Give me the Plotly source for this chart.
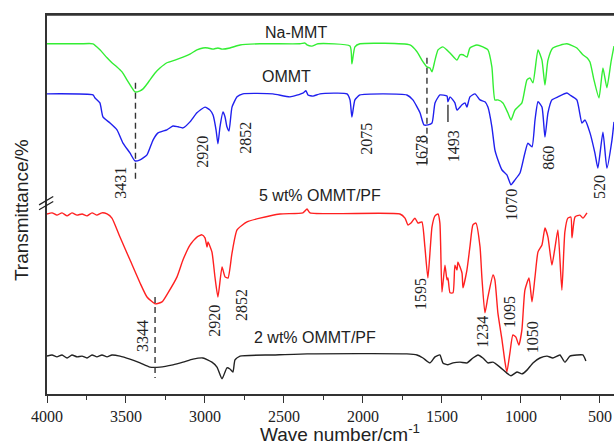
import plotly.graph_objects as go

# ---- data (wavenumber in cm-1, transmittance in a.u.) ----
na_mmt_wn = [4000, 3791, 3709, 3665, 3620, 3589, 3557, 3525, 3494, 3462, 3443, 3411, 3392, 3367, 3348,
             3316, 3285, 3241, 3190, 3139, 3095, 3051, 3013, 2981, 2949, 2918, 2892, 2842, 2778, 2652,
             2399, 2367, 2354, 2323, 2285, 2082, 2070, 2051, 2019, 1703, 1658, 1627, 1595, 1576, 1563,
             1544, 1525, 1494, 1449, 1405, 1386, 1367, 1342, 1323, 1279, 1241, 1209, 1184, 1165, 1146,
             1114, 1083, 1063, 1038, 994, 962, 943, 924, 892, 867, 848, 829, 798, 709, 646, 608, 582,
             563, 538, 506, 481, 456, 430, 411]
na_mmt_t = [92.4, 92.4, 92.4, 90.8, 88.7, 87.4, 86.3, 85.0, 82.9, 80.8, 79.7, 80.0, 80.5, 81.8, 82.9,
            84.7, 86.0, 87.4, 88.1, 88.9, 89.7, 90.8, 91.3, 91.3, 91.0, 91.3, 91.0, 91.3, 92.1, 92.4,
            92.4, 92.6, 92.1, 91.8, 92.4, 91.8, 87.1, 91.6, 92.4, 92.1, 90.3, 88.1, 86.3, 86.0, 85.0,
            88.1, 90.8, 91.6, 90.0, 88.1, 89.5, 89.5, 88.9, 91.3, 92.1, 91.6, 90.8, 86.3, 77.6, 77.6,
            76.8, 74.2, 72.3, 74.9, 76.8, 82.9, 83.4, 82.1, 90.8, 88.1, 81.5, 88.1, 91.3, 92.4, 91.3, 89.5, 88.7,
            87.6, 82.9, 78.1, 86.0, 80.8, 87.6, 91.8]

ommt_wn = [4000, 3709, 3696, 3665, 3646, 3601, 3557, 3519, 3475, 3443, 3411, 3367, 3329, 3297, 3241,
           3203, 3171, 3139, 3095, 3051, 3000, 2968, 2949, 2930, 2918, 2905, 2886, 2873, 2861, 2848,
           2829, 2797, 2760, 2570, 2462, 2380, 2361, 2348, 2316, 2272, 2101, 2082, 2070, 2051, 2019,
           1722, 1684, 1639, 1614, 1589, 1563, 1544, 1513, 1468, 1462, 1449, 1418, 1405, 1373, 1354,
           1342, 1323, 1291, 1259, 1228, 1209, 1184, 1165, 1146, 1120, 1089, 1063, 1038, 1006, 975,
           956, 930, 911, 892, 867, 848, 829, 804, 766, 709, 690, 646, 614, 595, 563, 532, 513, 481,
           456, 424, 411]
ommt_t = [79.2, 78.9, 78.1, 76.8, 73.1, 71.5, 69.7, 66.2, 63.6, 61.5, 61.8, 63.1, 67.0, 68.9, 69.7,
          70.7, 70.5, 70.2, 71.8, 74.2, 75.7, 74.9, 73.6, 69.7, 66.0, 70.5, 74.4, 73.1, 70.5, 69.4,
          75.7, 78.4, 79.2, 79.2, 78.4, 79.4, 80.0, 78.9, 78.6, 79.2, 79.2, 77.6, 73.1, 77.6, 78.9,
          78.9, 77.6, 74.2, 71.0, 71.0, 71.5, 76.8, 78.9, 78.6, 77.1, 78.4, 76.8, 74.9, 76.3, 76.8,
          75.7, 78.4, 79.2, 77.6, 77.1, 75.7, 70.5, 64.4, 61.8, 59.1, 57.8, 55.2, 56.5, 58.3, 63.6,
          66.2, 65.2, 72.3, 77.1, 75.7, 67.8, 74.2, 77.6, 78.4, 79.4, 78.9, 77.6, 71.5, 72.3, 68.9, 63.6, 59.6, 69.1,
          59.6, 67.0, 71.8]

pf5_wn = [4000, 3968, 3937, 3905, 3873, 3842, 3810, 3778, 3747, 3715, 3684, 3652, 3620, 3589, 3538,
          3475, 3411, 3367, 3316, 3272, 3234, 3177, 3139, 3095, 3051, 3019, 3000, 2987, 2981, 2956,
          2937, 2918, 2892, 2873, 2854, 2829, 2797, 2734, 2652, 2525, 2380, 2354, 2335, 1766, 1734,
          1715, 1696, 1671, 1652, 1627, 1608, 1589, 1563, 1544, 1525, 1513, 1500, 1481, 1468, 1462,
          1449, 1430, 1418, 1405, 1399, 1373, 1367, 1342, 1323, 1304, 1285, 1259, 1247, 1228, 1209,
          1177, 1165, 1146, 1120, 1101, 1089, 1070, 1051, 1032, 1013, 994, 975, 949, 930, 911, 892,
          867, 848, 829, 804, 785, 766, 741, 722, 703, 684, 677, 658, 627, 608, 582]
pf5_t = [47.5, 47.8, 47.2, 47.8, 47.0, 47.8, 47.2, 47.5, 47.0, 47.8, 47.2, 47.8, 47.5, 46.4, 41.4,
         35.4, 29.3, 25.6, 23.8, 24.3, 26.7, 30.9, 35.4, 39.3, 41.4, 42.0, 41.2, 38.8, 40.1, 37.5,
         30.9, 25.6, 33.5, 30.9, 30.6, 37.2, 43.3, 45.4, 46.4, 47.5, 47.8, 48.8, 47.8, 47.5, 46.4,
         44.6, 45.1, 46.4, 45.1, 45.4, 38.8, 30.6, 44.1, 47.0, 47.5, 45.1, 26.9, 34.0, 30.1, 30.6,
         26.7, 26.7, 34.0, 32.7, 34.8, 31.9, 28.0, 32.7, 38.8, 44.6, 45.1, 38.8, 30.6, 21.4, 25.6,
         31.4, 30.1, 21.4, 14.3, 8.4, 5.8, 10.8, 15.6, 15.0, 12.9, 16.9, 27.4, 30.6, 24.3, 30.9, 37.5,
         39.3, 43.8, 41.4, 34.0, 38.5, 43.3, 27.4, 42.8, 46.4, 46.7, 41.2, 46.7, 47.2, 46.4, 47.8]

pf2_wn = [4000, 3968, 3937, 3905, 3873, 3842, 3810, 3778, 3747, 3715, 3684, 3652, 3620, 3589, 3538,
          3475, 3411, 3348, 3285, 3203, 3139, 3076, 3013, 2956, 2924, 2892, 2861, 2842, 2823, 2810,
          2778, 2570, 2354, 1722, 1658, 1620, 1576, 1544, 1513, 1494, 1462, 1430, 1386, 1342, 1304,
          1272, 1241, 1209, 1177, 1133, 1089, 1063, 1025, 994, 962, 924, 880, 835, 798, 753, 722,
          690, 646, 608, 589]
pf2_t = [10.0, 10.3, 9.8, 10.3, 9.5, 10.3, 9.8, 10.0, 9.5, 10.3, 9.8, 10.3, 9.8, 10.3, 10.0,
         9.2, 8.2, 7.1, 7.1, 7.7, 8.4, 9.2, 9.5, 8.4, 7.1, 4.0, 6.9, 6.6, 5.8, 9.0,
         10.0, 10.3, 10.6, 10.6, 10.3, 9.5, 8.2, 9.8, 10.3, 8.2, 7.7, 8.2, 8.4, 8.2, 9.5,
         10.3, 9.5, 8.2, 8.4, 7.1, 5.5, 4.8, 5.8, 5.3, 6.3, 8.2, 9.5, 10.0, 9.5, 10.3, 8.4,
         10.0, 10.3, 10.3, 8.7]

series_names = ["Na-MMT", "OMMT", "5 wt% OMMT/PF", "2 wt% OMMT/PF"]
series_colors = ["#33ee33", "#2020ee", "#ff2020", "#222222"]
series_label_pos = [(2424, 95.5), (2481, 83.9), (2272, 52.3), (2304, 15.0)]

x_ticks = [4000, 3500, 3000, 2500, 2000, 1500, 1000, 500]

# peak labels: (text, wavenumber position, transmittance position)
peak_labels = [("3431", 3532, 55.7), ("2920", 3013, 63.9), ("2852", 2741, 67.6),
               ("2075", 1975, 67.3), ("1678", 1633, 64.1), ("1493", 1430, 65.4),
               ("1070", 1057, 49.9), ("860", 823, 62.3), ("520", 506, 54.6),
               ("3344", 3399, 15.3), ("2920", 2937, 19.3), ("2852", 2766, 23.5),
               ("1595", 1633, 26.4), ("1234", 1241, 16.4), ("1095", 1076, 21.6),
               ("1050", 930, 15.0)]

# marker lines: (wavenumber, T from, T to, dashed)
marker_lines = [(3440, 82.1, 56.5, True), (1595, 88.7, 60.4, True),
                (1462, 76.3, 71.8, False), (3316, 25.6, 4.2, True)]

fig = go.Figure()
data = [(na_mmt_wn, na_mmt_t), (ommt_wn, ommt_t), (pf5_wn, pf5_t), (pf2_wn, pf2_t)]
for (wn, t), name, col in zip(data, series_names, series_colors):
    fig.add_trace(go.Scatter(x=wn, y=t, mode="lines", name=name,
                             line=dict(color=col, width=1.4, shape="spline", smoothing=0.5),
                             showlegend=False, hoverinfo="skip"))

for x0, y0, y1, dashed in marker_lines:
    fig.add_shape(type="line", xref="x", yref="y", x0=x0, x1=x0, y0=y0, y1=y1,
                  line=dict(color="#333333", width=1.4, dash="6px,4px" if dashed else "solid"))

sans = "Liberation Sans, Arial, sans-serif"
serif = "Liberation Serif, Times New Roman, serif"

for name, (lx, ly) in zip(series_names, series_label_pos):
    fig.add_annotation(x=lx, y=ly, xref="x", yref="y", text=name, showarrow=False,
                       font=dict(family=sans, size=16, color="#222222"),
                       xanchor="center", yanchor="middle")

for txt, lx, ly in peak_labels:
    fig.add_annotation(x=lx, y=ly, xref="x", yref="y", text=txt, showarrow=False,
                       textangle=-90, font=dict(family=serif, size=16, color="#222222"),
                       xanchor="center", yanchor="middle")

# axis titles
fig.add_annotation(x=0.517, y=-0.102, xref="paper", yref="paper",
                   text="Wave number/cm<sup>-1</sup>", showarrow=False, borderpad=0,
                   font=dict(family=sans, size=19, color="#222222"),
                   xanchor="center", yanchor="middle")
fig.add_annotation(x=-0.046, y=0.485, xref="paper", yref="paper",
                   text="Transmittance/%", showarrow=False, textangle=-90,
                   font=dict(family=sans, size=19, color="#222222"),
                   xanchor="center", yanchor="middle")

# axis break marks
for yb in (0.499, 0.486):
    fig.add_shape(type="line", xref="paper", yref="paper",
                  x0=-0.014, y0=yb, x1=0.011, y1=yb + 0.022,
                  line=dict(color="#222222", width=1.2))

# top frame line
fig.add_shape(type="line", xref="paper", yref="paper", x0=0, x1=1, y0=1, y1=1,
              line=dict(color="#333333", width=1.5))

fig.update_layout(
    width=614, height=444,
    margin=dict(l=47, r=0, t=15, b=50),
    paper_bgcolor="white", plot_bgcolor="white",
    xaxis=dict(range=[4000, 411], tickvals=x_ticks, ticktext=[str(v) for v in x_ticks],
               ticks="outside", ticklen=7, tickwidth=1.2, tickcolor="#333333",
               minor=dict(dtick=250, ticks="outside", ticklen=4, tickcolor="#333333", tickwidth=1.2),
               showline=True, linecolor="#333333", linewidth=1.5, mirror=True,
               showgrid=False, zeroline=False,
               tickfont=dict(family=serif, size=16, color="#222222")),
    yaxis=dict(range=[0, 100], showticklabels=False, ticks="", showline=True,
               linecolor="#333333", linewidth=1.5, showgrid=False, zeroline=False),
)

fig.write_html("out.html", config={"displayModeBar": False},
               post_script="document.body.style.margin='0';")
